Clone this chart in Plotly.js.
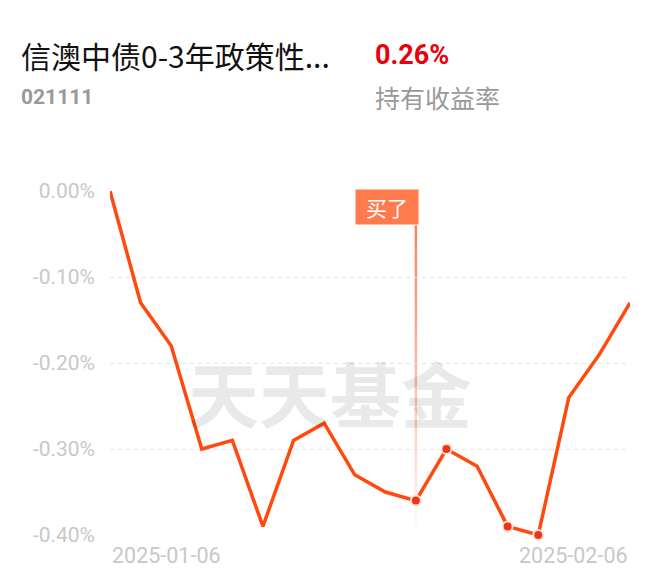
<!DOCTYPE html>
<html>
<head>
<meta charset="utf-8">
<script src="https://cdn.plot.ly/plotly-3.0.1.min.js"></script>
<style>html,body{margin:0;padding:0;background:#fff;}#chart{width:660px;height:585px;}</style>
</head>
<body>
<div id="chart"></div>
<script>
// ---- data ----
const dates = ["2025-01-06","2025-01-07","2025-01-08","2025-01-09","2025-01-10",
  "2025-01-13","2025-01-14","2025-01-15","2025-01-16","2025-01-17",
  "2025-01-20","2025-01-21","2025-01-22","2025-01-23","2025-01-24",
  "2025-01-27","2025-02-05","2025-02-06"];
const returns = [0.00,-0.13,-0.18,-0.30,-0.29,-0.39,-0.29,-0.27,-0.33,-0.35,
  -0.36,-0.30,-0.32,-0.39,-0.40,-0.24,-0.19,-0.13];
const markedDates = ["2025-01-20","2025-01-21","2025-01-23","2025-01-24"];
const buyDate = "2025-01-20";
const yTickVals = [0,-0.1,-0.2,-0.3,-0.4];
const yTickText = ["0.00%","-0.10%","-0.20%","-0.30%","-0.40%"];
const xLabelDates = [dates[0], dates[dates.length-1]];
const fundName = "信澳中债0-3年政策性...";
const fundCode = "021111";
const holdReturn = "0.26%";
const holdReturnLabel = "持有收益率";
const buyLabel = "买了";
const watermark = "天天基金";

// ---- build ----
const idx = dates.map((d,i)=>i);
const mIdx = markedDates.map(d=>dates.indexOf(d));
const mVal = mIdx.map(i=>returns[i]);
const bIdx = dates.indexOf(buyDate);

const traces = [
  {x: idx, y: returns, type:'scatter', mode:'lines',
   line:{color:'#ff4a0d', width:3.5}, cliponaxis:false, hoverinfo:'skip'},
  {x: mIdx, y: mVal, type:'scatter', mode:'markers',
   marker:{color:'#ee3614', size:10, line:{color:'#ffe3dc', width:2}},
   cliponaxis:false, hoverinfo:'skip'}
];

// gradient vertical buy line
const shapes = [];
const yTop = -0.04, yBot = -0.395, N = 40;
for (let k=0;k<N;k++){
  const y0 = yTop + (yBot-yTop)*k/N, y1 = yTop + (yBot-yTop)*(k+1)/N;
  const a = 0.95 - 0.9*(k/(N-1));
  shapes.push({type:'line', xref:'x', yref:'y', x0:bIdx, x1:bIdx, y0:y0, y1:y1,
    line:{color:'rgba(255,120,80,'+a.toFixed(3)+')', width:2.5}, layer:'below'});
}

const annotations = [
  {xref:'paper', yref:'paper', x:-0.175, y:1.395, xanchor:'left', yanchor:'middle', showarrow:false,
   text:fundName, font:{family:'Noto Sans CJK SC', size:30, color:'#111'}},
  {xref:'paper', yref:'paper', x:-0.175, y:1.273, xanchor:'left', yanchor:'middle', showarrow:false,
   text:'<b>'+fundCode+'</b>', font:{family:'Roboto', size:21, color:'#999'}},
  {xref:'paper', yref:'paper', x:0.505, y:1.395, xanchor:'left', yanchor:'middle', showarrow:false,
   text:'<b>'+holdReturn+'</b>', font:{family:'Roboto', size:27, color:'#e8000b'}},
  {xref:'paper', yref:'paper', x:0.505, y:1.273, xanchor:'left', yanchor:'middle', showarrow:false,
   text:holdReturnLabel, font:{family:'Noto Sans CJK SC', size:25, color:'#999'}},
  {xref:'paper', yref:'paper', x:0.423, y:0.42, xanchor:'center', yanchor:'middle', showarrow:false,
   text:'<b>'+watermark+'</b>', font:{family:'Noto Sans CJK SC', size:71, color:'rgba(0,0,0,0.085)'}},
  {xref:'x', yref:'paper', x:bIdx, y:1.0, xanchor:'right', yanchor:'top', xshift:3, yshift:2, showarrow:false,
   text:buyLabel, bgcolor:'#ff7b4d', borderpad:5, width:52, height:24,
   font:{family:'Noto Sans CJK SC', size:21, color:'#fff'}},
  {xref:'x', yref:'paper', x:dates.indexOf(xLabelDates[0]), y:-0.06, xanchor:'left', yanchor:'middle', showarrow:false,
   text:xLabelDates[0], font:{family:'Roboto', size:21.5, color:'#c8c8c8'}},
  {xref:'x', yref:'paper', x:dates.indexOf(xLabelDates[1]), y:-0.06, xanchor:'right', yanchor:'middle', showarrow:false,
   text:xLabelDates[1], font:{family:'Roboto', size:21.5, color:'#c8c8c8'}}
];

const layout = {
  width:660, height:585, showlegend:false,
  paper_bgcolor:'#fff', plot_bgcolor:'#fff',
  margin:{l:110, r:30, t:191, b:50},
  xaxis:{range:[0,dates.length-1], showgrid:false, zeroline:false, showticklabels:false, showline:false, fixedrange:true},
  yaxis:{range:[-0.4,0], tickvals:yTickVals, ticktext:yTickText, showgrid:true,
    gridcolor:'#e2e2e2', griddash:'4px,4px', gridwidth:1, zeroline:false, showline:false,
    ticks:'', ticklabelstandoff:14, tickfont:{family:'Roboto', size:21, color:'#c8c8c8'}},
  shapes: shapes,
  annotations: annotations
};
Plotly.newPlot('chart', traces, layout, {displayModeBar:false, staticPlot:true});
</script>
</body>
</html>
